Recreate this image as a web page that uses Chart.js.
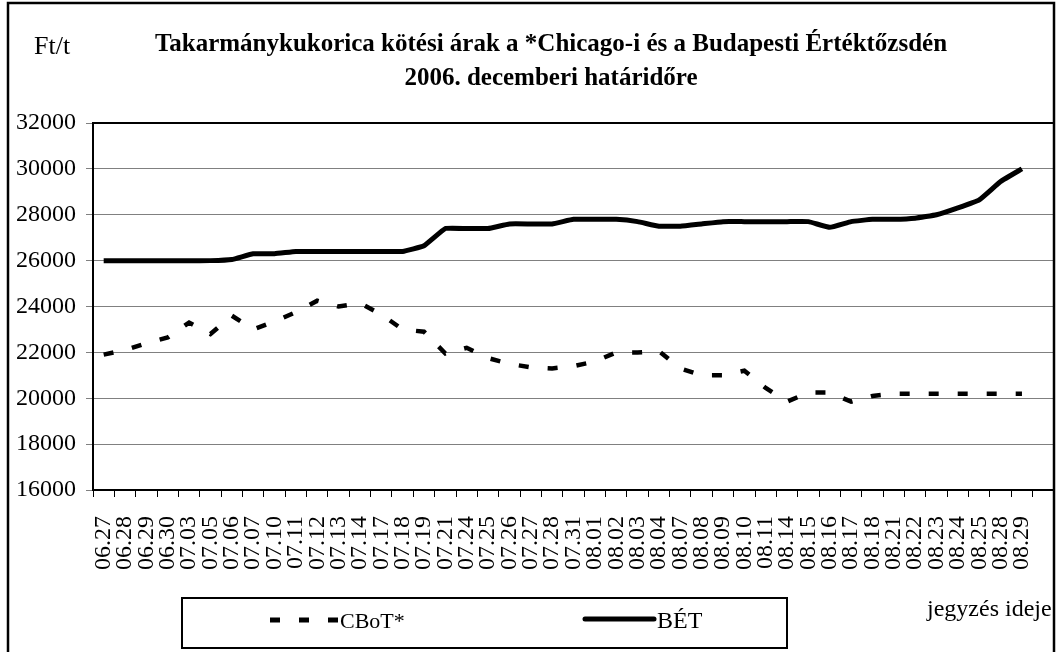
<!DOCTYPE html>
<html>
<head>
<meta charset="utf-8">
<script src="https://cdn.jsdelivr.net/npm/chart.js@4.4.1/dist/chart.umd.min.js"></script>
<style>
  html, body { margin: 0; padding: 0; background: #fff; }
  #wrap { width: 1057px; height: 652px; position: relative; }
</style>
</head>
<body>
<div id="wrap"><canvas id="chart" width="1057" height="652"></canvas></div>
<script>
// Takarmánykukorica kötési árak - CBoT és BÉT, 2006. decemberi határidő

const dates = ['06.27', '06.28', '06.29', '06.30', '07.03', '07.05', '07.06', '07.07', '07.10', '07.11',
    '07.12', '07.13', '07.14', '07.17', '07.18', '07.19', '07.21', '07.24', '07.25', '07.26',
    '07.27', '07.28', '07.31', '08.01', '08.02', '08.03', '08.04', '08.07', '08.08', '08.09',
    '08.10', '08.11', '08.14', '08.15', '08.16', '08.17', '08.18', '08.21', '08.22', '08.23',
    '08.24', '08.25', '08.28', '08.29', ''];

const cbot = [21900, 22100, 22400, 22650, 23300, 22800, 23600, 23000, 23350, 23750,
    24250, 24000, 24150, 23650, 23000, 22900, 21950, 22200, 21750, 21500,
    21350, 21300, 21400, 21600, 22000, 22000, 22050, 21300, 21000, 21000,
    21200, 20450, 19850, 20250, 20250, 19850, 20100, 20200, 20200, 20200,
    20200, 20200, 20200, 20200];

const bet = [26000, 26000, 26000, 26000, 26000, 26000, 26050, 26300, 26300, 26400,
    26400, 26400, 26400, 26400, 26400, 26650, 27400, 27400, 27400, 27600,
    27600, 27600, 27800, 27800, 27800, 27700, 27500, 27500, 27600, 27700,
    27700, 27700, 27700, 27700, 27450, 27700, 27800, 27800, 27850, 28000,
    28300, 28650, 29450, 30000];

const titleLines = ['Takarmánykukorica kötési árak a *Chicago-i és a Budapesti Értéktőzsdén',
    '2006. decemberi határidőre'];

const FONT = "'Liberation Serif', 'Times New Roman', serif";

// keret, cím, jelmagyarázat rajzolása
const decorPlugin = {
    id: 'decor',
    beforeDraw(chart) {
        const ctx = chart.ctx;
        ctx.save();
        ctx.fillStyle = '#fff';
        ctx.fillRect(0, 0, chart.width, chart.height);
        ctx.restore();
    },
    afterDraw(chart) {
        const ctx = chart.ctx;
        const a = chart.chartArea;
        ctx.save();

        // plot terület kerete (felső, jobb)
        ctx.strokeStyle = '#000';
        ctx.lineWidth = 2;
        ctx.beginPath();
        ctx.moveTo(a.left, a.top);
        ctx.lineTo(a.right, a.top);
        ctx.lineTo(a.right, a.bottom);
        ctx.stroke();

        // külső keret
        ctx.lineWidth = 2.5;
        ctx.beginPath();
        ctx.moveTo(8, 660);
        ctx.lineTo(8, 3);
        ctx.lineTo(1054, 3);
        ctx.lineTo(1054, 660);
        ctx.stroke();

        // cím
        ctx.fillStyle = '#000';
        ctx.textAlign = 'center';
        ctx.textBaseline = 'middle';
        ctx.font = 'bold 25px ' + FONT;
        ctx.fillText(titleLines[0], 551, 45);
        ctx.fillText(titleLines[1], 551, 79);

        // mértékegység
        ctx.font = '26px ' + FONT;
        ctx.textAlign = 'left';
        ctx.fillText('Ft/t', 34, 47);

        // tengelycím
        ctx.font = '24px ' + FONT;
        ctx.fillText('jegyzés ideje', 927, 610);

        // jelmagyarázat doboz
        ctx.lineWidth = 2;
        ctx.strokeRect(182, 598, 605, 50);

        const ds = chart.data.datasets;
        ctx.lineWidth = 5;
        ctx.setLineDash(ds[0].borderDash);
        ctx.beginPath();
        ctx.moveTo(270, 620);
        ctx.lineTo(338, 620);
        ctx.stroke();
        ctx.setLineDash([]);
        ctx.font = '22px ' + FONT;
        ctx.fillText(ds[0].label, 340, 622);

        ctx.lineCap = 'round';
        ctx.beginPath();
        ctx.moveTo(585, 619);
        ctx.lineTo(654, 619);
        ctx.stroke();
        ctx.font = '24px ' + FONT;
        ctx.fillText(ds[1].label, 657, 622);

        ctx.restore();
    }
};

new Chart(document.getElementById('chart').getContext('2d'), {
    type: 'line',
    data: {
        labels: dates,
        datasets: [{
            label: 'CBoT*',
            data: cbot,
            borderColor: '#000',
            borderWidth: 4.5,
            borderDash: [10, 19],
            pointRadius: 0,
            tension: 0,
            fill: false
        }, {
            label: 'BÉT',
            data: bet,
            borderColor: '#000',
            borderWidth: 5,
            pointRadius: 0,
            tension: 0.1,
            fill: false
        }]
    },
    options: {
        responsive: false,
        animation: false,
        events: [],
        layout: { padding: { left: 0, top: 123, right: 3, bottom: 0 } },
        plugins: {
            legend: { display: false },
            title: { display: false },
            tooltip: { enabled: false }
        },
        scales: {
            x: {
                offset: true,
                afterFit: s => {
                    s.height = 162;
                    s.paddingLeft = 0;
                    s.paddingRight = 0;
                },
                grid: {
                    offset: true,
                    drawOnChartArea: false,
                    drawTicks: true,
                    tickLength: 7,
                    color: '#000'
                },
                border: { display: true, color: '#000', width: 2 },
                ticks: {
                    autoSkip: false,
                    minRotation: 90,
                    maxRotation: 90,
                    padding: 19,
                    color: '#000',
                    font: { family: FONT, size: 24 }
                }
            },
            y: {
                min: 16000,
                max: 32000,
                afterFit: s => {
                    s.width = 93;
                    s.paddingTop = 0;
                    s.paddingBottom = 0;
                },
                ticks: {
                    stepSize: 2000,
                    padding: 10,
                    color: '#000',
                    font: { family: FONT, size: 24 },
                    callback: v => String(v)
                },
                grid: { color: '#808080', lineWidth: 1, tickLength: 7 },
                border: { display: true, color: '#000', width: 2 }
            }
        }
    },
    plugins: [decorPlugin]
});
</script>
</body>
</html>
